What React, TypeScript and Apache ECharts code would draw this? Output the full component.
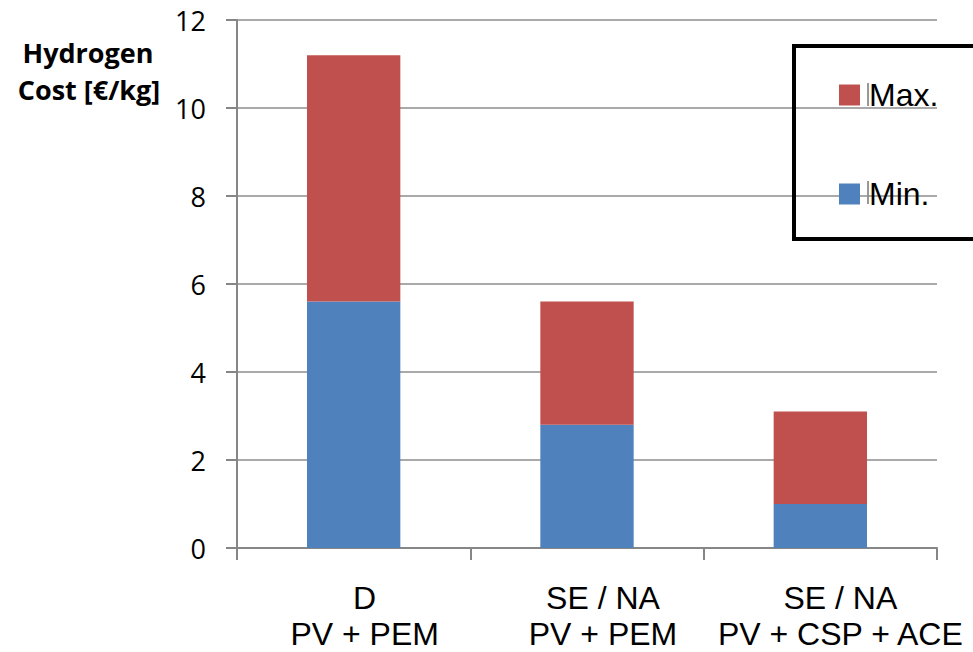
import React, { useEffect, useRef } from "react";
import * as echarts from "echarts";

const categories = ["D\nPV + PEM", "SE / NA\nPV + PEM", "SE / NA\nPV + CSP + ACE"];
const minValues = [5.6, 2.8, 1.0];
const maxValues = [5.6, 2.8, 2.1]; // stacked increment on top of Min.
const yTicks = [0, 2, 4, 6, 8, 10, 12];

const labelShift = [22, 32, 40];

export default function App() {
  const ref = useRef<HTMLDivElement>(null);
  useEffect(() => {
    document.body.style.margin = "0";
    document.body.style.overflow = "hidden";
    if (!ref.current) return;
    const chart = echarts.init(ref.current, null, { renderer: "svg" });
    const rich: Record<string, any> = {};
    labelShift.forEach((s, i) => {
      rich["c" + i + "a"] = {
        fontFamily: "Liberation Sans",
        fontSize: 32,
        color: "#000",
        lineHeight: 42,
        padding: [0, 0, 0, s],
      };
      rich["c" + i + "b"] = {
        fontFamily: "Liberation Sans",
        fontSize: 32,
        color: "#000",
        lineHeight: 30,
        padding: [0, 0, 0, s],
      };
    });
    chart.setOption({
      animation: false,
      backgroundColor: "#ffffff",
      grid: { left: 237, right: 36, top: 20, bottom: 104 },
      xAxis: {
        type: "category",
        data: categories,
        axisLine: { lineStyle: { color: "#868686", width: 2 } },
        axisTick: { show: true, length: 12, lineStyle: { color: "#868686", width: 2 } },
        axisLabel: {
          interval: 0,
          margin: 29,
          formatter: (v: string, i: number) =>
            v
              .split("\n")
              .map((l, k) => `{c${i}${k === 0 ? "a" : "b"}|${l}}`)
              .join("\n"),
          rich,
        },
      },
      yAxis: {
        type: "value",
        min: yTicks[0],
        max: yTicks[yTicks.length - 1],
        interval: 2,
        axisLine: { show: true, lineStyle: { color: "#868686", width: 2 } },
        axisTick: { show: true, length: 11, lineStyle: { color: "#868686", width: 2 } },
        splitLine: { lineStyle: { color: "#8c8c8c", width: 1.5 } },
        axisLabel: {
          fontFamily: "Open Sans",
          fontSize: 27,
          color: "#000",
          margin: 31,
        },
      },
      legend: {
        orient: "vertical",
        left: 834,
        top: 74,
        itemWidth: 21,
        itemHeight: 21,
        itemGap: 67,
        icon: "rect",
        data: ["Max.", "Min."],
        textStyle: {
          fontFamily: "Liberation Sans",
          fontSize: 32,
          color: "#000",
          padding: [0, 0, 0, 4],
        },
      },
      graphic: [
        {
          type: "rect",
          shape: { x: 794, y: 46, width: 200, height: 193 },
          style: { fill: "none", stroke: "#000", lineWidth: 4 },
          z: 10,
        },
        {
          type: "rect",
          shape: { x: 867.5, y: 83, width: 1, height: 23 },
          style: { fill: "#333" },
        },
        {
          type: "rect",
          shape: { x: 867.5, y: 181, width: 1, height: 23 },
          style: { fill: "#333" },
        },
        {
          type: "text",
          x: 88,
          y: 52,
          style: {
            text: "Hydrogen",
            font: "bold 27px 'Open Sans'",
            fill: "#000",
            align: "center",
            verticalAlign: "middle",
          },
        },
        {
          type: "text",
          x: 89,
          y: 89,
          style: {
            text: "Cost [€/kg]",
            font: "bold 27px 'Open Sans'",
            fill: "#000",
            align: "center",
            verticalAlign: "middle",
          },
        },
      ],
      series: [
        {
          name: "Min.",
          type: "bar",
          stack: "total",
          data: minValues,
          barWidth: "40%",
          itemStyle: { color: "#4F81BD" },
        },
        {
          name: "Max.",
          type: "bar",
          stack: "total",
          data: maxValues,
          barWidth: "40%",
          itemStyle: { color: "#C0504D" },
        },
      ],
    });
    return () => chart.dispose();
  }, []);
  return <div ref={ref} style={{ width: 973, height: 652 }} />;
}
